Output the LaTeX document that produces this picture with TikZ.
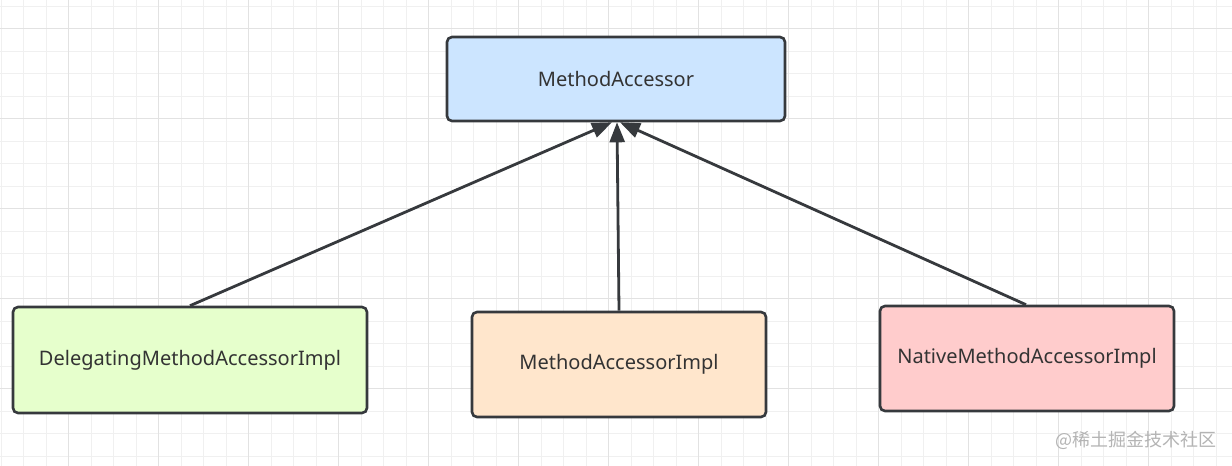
\documentclass[tikz,border=0pt]{standalone}
\usepackage{fontspec}
\setmainfont{Noto Sans}
\newfontfamily\cjk{Noto Sans CJK SC}
\usetikzlibrary{arrows.meta}
\definecolor{gridlight}{HTML}{F0F0F0}
\definecolor{griddark}{HTML}{E2E2E2}
\definecolor{strokegray}{HTML}{36393D}
\definecolor{textgray}{HTML}{333333}
\definecolor{blueFill}{HTML}{CCE5FF}
\definecolor{greenFill}{HTML}{E6FFCC}
\definecolor{orangeFill}{HTML}{FFE6CC}
\definecolor{redFill}{HTML}{FFCCCC}
\definecolor{markgray}{HTML}{B4B4B4}
\begin{document}
\begin{tikzpicture}[x=0.5pt,y=-0.5pt,
  box/.style={draw=strokegray,line width=1.3pt,rounded corners=2.5pt,
    text=textgray,font=\fontsize{10}{12}\selectfont,inner sep=0pt},
  inherit/.style={draw=strokegray,line width=1.4pt,
    -{Triangle[length=10pt,width=7.5pt]}}]
\useasboundingbox (0,0) rectangle (1232,466);
\fill[white] (0,0) rectangle (1232,466);
% grid
\foreach \i in {0,...,54}
  \draw[gridlight,line width=0.5pt] (1+22.5*\i,0) -- (1+22.5*\i,466);
\foreach \j in {0,...,20}
  \draw[gridlight,line width=0.5pt] (0,6+22.5*\j) -- (1232,6+22.5*\j);
\foreach \i in {68.5,158.5,...,1232}
  \draw[griddark,line width=0.5pt] (\i,0) -- (\i,466);
\foreach \j in {28.5,118.5,...,466}
  \draw[griddark,line width=0.5pt] (0,\j) -- (1232,\j);

\path
(616,79) node[box,fill=blueFill,minimum width=169pt,minimum height=42pt](accessor){MethodAccessor}
(190,360) node[box,fill=greenFill,minimum width=177pt,minimum height=53pt](delegating){DelegatingMethodAccessorImpl}
(619,364.5) node[box,fill=orangeFill,minimum width=147pt,minimum height=52.5pt](impl){MethodAccessorImpl}
(1027,358.5) node[box,fill=redFill,minimum width=147pt,minimum height=52.5pt](native){NativeMethodAccessorImpl};

\path[inherit] (delegating.north) -- ([xshift=-2pt]accessor.south);
\path[inherit] (impl.north) -- ([xshift=0.5pt]accessor.south);
\path[inherit] ([xshift=-0.5pt]native.north) -- ([xshift=2pt]accessor.south);

\node[text=markgray,font=\cjk\fontsize{9}{11}\selectfont,inner sep=0pt] (mark) at (1136,440) {@稀土掘金技术社区};
\end{tikzpicture}
\end{document}
